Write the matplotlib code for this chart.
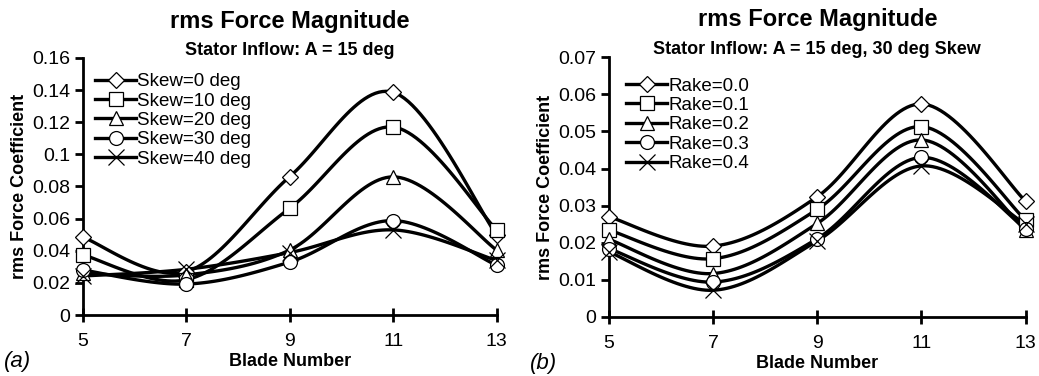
import numpy as np
import matplotlib
matplotlib.use("Agg")
import matplotlib.pyplot as plt
from matplotlib.lines import Line2D
from matplotlib.ticker import FuncFormatter

plt.rcParams['font.family'] = ['Liberation Sans', 'DejaVu Sans']

blades = [5, 7, 9, 11, 13]

# panel (a): skew angle
skew_labels = ['Skew=0 deg', 'Skew=10 deg', 'Skew=20 deg', 'Skew=30 deg', 'Skew=40 deg']
skew_0 = [0.0484, 0.0270, 0.0862, 0.1386, 0.0499]
skew_10 = [0.0374, 0.0220, 0.0665, 0.1170, 0.0530]
skew_20 = [0.0260, 0.0250, 0.0405, 0.0860, 0.0405]
skew_30 = [0.0280, 0.0193, 0.0330, 0.0588, 0.0310]
skew_40 = [0.0243, 0.0285, 0.0389, 0.0530, 0.0340]

# panel (b): rake
rake_labels = ['Rake=0.0', 'Rake=0.1', 'Rake=0.2', 'Rake=0.3', 'Rake=0.4']
rake_00 = [0.0270, 0.0191, 0.0324, 0.0574, 0.0312]
rake_01 = [0.0234, 0.0157, 0.0290, 0.0513, 0.0261]
rake_02 = [0.0209, 0.0117, 0.0252, 0.0477, 0.0234]
rake_03 = [0.0184, 0.0094, 0.0211, 0.0430, 0.0238]
rake_04 = [0.0175, 0.0072, 0.0205, 0.0407, 0.0250]

markers = ['D', 's', '^', 'o', 'x']
msizes = [8.5, 10, 10, 10, 11]


def smooth(x, y, n=30):
    """Excel-style smoothed line (Catmull-Rom Bezier)"""
    p = np.column_stack([x, y]).astype(float)
    p = np.vstack([p[0], p, p[-1]])
    out = []
    t = np.linspace(0, 1, n)[:, None]
    for i in range(1, len(p) - 2):
        p0, p1, p2, p3 = p[i - 1], p[i], p[i + 1], p[i + 2]
        b1 = p1 + (p2 - p0) / 6
        b2 = p2 - (p3 - p1) / 6
        seg = ((1 - t) ** 3) * p1 + 3 * ((1 - t) ** 2) * t * b1 + 3 * (1 - t) * t ** 2 * b2 + t ** 3 * p2
        out.append(seg)
    out = np.vstack(out)
    return out[:, 0], out[:, 1]


def draw_panel(ax, series, labels, ymax, ystep, subtitle, tag, leg_anchor):
    for vals, m, ms in zip(series, markers, msizes):
        xs, ys = smooth(blades, vals)
        ax.plot(xs, ys, color='black', lw=2.4, zorder=2)
        ax.plot(blades, vals, linestyle='none', marker=m, ms=ms,
                mfc='white', mec='black', mew=0.9, zorder=3, clip_on=False)
    handles = [Line2D([0], [0], color='black', lw=2.4, marker=m, ms=ms,
                      mfc='white', mec='black', mew=0.9)
               for m, ms in zip(markers, msizes)]
    ax.legend(handles, labels, loc='upper left', bbox_to_anchor=leg_anchor,
              frameon=False, fontsize=13.5, handlelength=2.2, handletextpad=0.05,
              labelspacing=0.12, borderaxespad=0.2)
    ax.set_xlim(5, 13)
    ax.set_ylim(0, ymax)
    ax.set_xticks(blades)
    ax.set_yticks(np.arange(0, ymax + ystep / 2, ystep))
    ax.yaxis.set_major_formatter(FuncFormatter(lambda v, p: '%g' % round(v, 3)))
    for s in ['top', 'right']:
        ax.spines[s].set_visible(False)
    for s in ['left', 'bottom']:
        ax.spines[s].set_linewidth(2)
    ax.tick_params(axis='y', direction='out', length=6, width=2, labelsize=14, pad=3)
    ax.tick_params(axis='x', direction='inout', length=10, width=2, labelsize=14, pad=8)
    ax.set_xlabel('Blade Number', fontsize=13, fontweight='bold', labelpad=2)
    ax.set_ylabel('rms Force Coefficient', fontsize=13, fontweight='bold', labelpad=3)
    ax.text(0.5, 1.143, 'rms Force Magnitude', transform=ax.transAxes, ha='center',
            va='center', fontsize=17, fontweight='bold')
    ax.text(0.5, 1.03, subtitle, transform=ax.transAxes, ha='center',
            va='center', fontsize=13, fontweight='bold')
    ax.text(-0.19, -0.18, tag, transform=ax.transAxes, ha='left', va='center',
            fontsize=16, fontstyle='italic')


fig = plt.figure(figsize=(10.39, 3.76), dpi=100)
ax1 = fig.add_axes([0.0799, 0.162, 0.398, 0.684])
ax2 = fig.add_axes([0.5861, 0.157, 0.401, 0.691])

draw_panel(ax1, [skew_0, skew_10, skew_20, skew_30, skew_40], skew_labels,
           0.16, 0.02, 'Stator Inflow: A = 15 deg', '(a)', (0.002, 0.985))
draw_panel(ax2, [rake_00, rake_01, rake_02, rake_03, rake_04], rake_labels,
           0.07, 0.01, 'Stator Inflow: A = 15 deg, 30 deg Skew', '(b)', (0.014, 0.965))

fig.savefig('out.png', dpi=100)
